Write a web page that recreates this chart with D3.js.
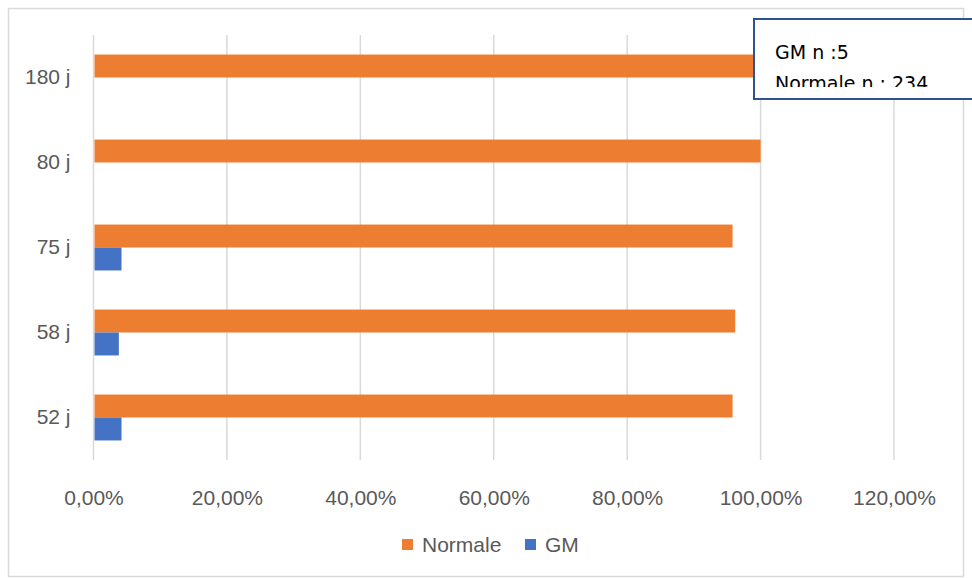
<!DOCTYPE html>
<html>
<head>
<meta charset="utf-8">
<script src="https://cdn.jsdelivr.net/npm/d3@7/dist/d3.min.js"></script>
<style>
  body { margin: 0; background: #fff; }
  svg { display: block; }
</style>
</head>
<body>
<svg id="chart"></svg>
<script>
// categories, top to bottom
const categories = ["180 j", "80 j", "75 j", "58 j", "52 j"];
const normale = [1.0, 1.0, 0.958, 0.962, 0.958];
const gm = [0, 0, 0.042, 0.038, 0.042];
const xTicks = [0, 0.2, 0.4, 0.6, 0.8, 1.0, 1.2];
const seriesNames = ["Normale", "GM"];
const noteLines = ["GM n :5", "Normale n : 234"];

const W = 972, H = 578;
const margin = { top: 35, right: 78, bottom: 118, left: 93.5 };
const width = W - margin.left - margin.right;
const height = H - margin.top - margin.bottom;

const color = d3.scaleOrdinal()
  .domain(seriesNames)
  .range(["#ED7D31", "#4472C4"]);

const root = d3.select("#chart").attr("width", W).attr("height", H);

// chart frame
root.append("rect")
  .attr("x", 8.5).attr("y", 8.5)
  .attr("width", 955).attr("height", 568)
  .attr("fill", "#fff")
  .attr("stroke", "#d9d9d9")
  .attr("stroke-width", 1.5);

const svg = root.append("g")
  .attr("transform", `translate(${margin.left}, ${margin.top})`);

const x = d3.scaleLinear().domain([0, 1.2]).range([0, width]);

const y0 = d3.scaleBand()
  .domain(categories)
  .range([0, height])
  .paddingInner(0.46)
  .paddingOuter(0.23);

const y1 = d3.scaleBand()
  .domain(seriesNames)
  .range([0, y0.bandwidth()]);

// gridlines
svg.append("g")
  .selectAll("line")
  .data(xTicks)
  .enter()
  .append("line")
  .attr("x1", (d) => x(d))
  .attr("x2", (d) => x(d))
  .attr("y1", 0)
  .attr("y2", height)
  .attr("stroke", "#d9d9d9")
  .attr("stroke-width", 1.5);

// x axis labels
const fmt = (d) => d3.format(".2f")(d * 100).replace(".", ",") + "%";
svg.append("g")
  .attr("transform", `translate(0, ${height})`)
  .call(d3.axisBottom(x).tickValues(xTicks).tickFormat(fmt).tickSize(0).tickPadding(30))
  .call((g) => g.select(".domain").remove())
  .selectAll("text")
  .attr("fill", "#595959")
  .style("font-family", "Liberation Sans, Arial, sans-serif")
  .style("font-size", "21px");

// y axis labels
svg.append("g")
  .call(d3.axisLeft(y0).tickSize(0).tickPadding(23))
  .call((g) => g.select(".domain").remove())
  .selectAll("text")
  .attr("fill", "#595959")
  .style("font-family", "Liberation Sans, Arial, sans-serif")
  .style("font-size", "21px");

// bars
const rows = categories.map((c, i) => ({ cat: c, Normale: normale[i], GM: gm[i] }));

svg.append("g")
  .selectAll("g")
  .data(rows)
  .enter()
  .append("g")
  .attr("transform", (d) => `translate(0, ${y0(d.cat)})`)
  .selectAll("rect")
  .data((d) => seriesNames.map((k) => ({ key: k, value: d[k] })))
  .enter()
  .append("rect")
  .attr("x", x(0) + 1)
  .attr("y", (d) => y1(d.key))
  .attr("width", (d) => Math.max(0, x(d.value) - x(0) - 1))
  .attr("height", y1.bandwidth())
  .attr("fill", (d) => color(d.key));

// legend
const legend = root.append("g")
  .attr("transform", "translate(402, 545)");

const legendX = [0, 123];
const items = legend.selectAll("g")
  .data(seriesNames)
  .enter()
  .append("g")
  .attr("transform", (d, i) => `translate(${legendX[i]}, 0)`);

items.append("rect")
  .attr("x", 0).attr("y", -6)
  .attr("width", 11).attr("height", 11)
  .attr("fill", color);

items.append("text")
  .attr("x", 20).attr("y", 7)
  .attr("fill", "#595959")
  .style("font-family", "Liberation Sans, Arial, sans-serif")
  .style("font-size", "21px")
  .text((d) => d);

// note box
root.append("clipPath")
  .attr("id", "noteClip")
  .append("rect")
  .attr("x", 754).attr("y", 19).attr("width", 240).attr("height", 68);

root.append("rect")
  .attr("x", 754).attr("y", 19)
  .attr("width", 240).attr("height", 80)
  .attr("fill", "#fff")
  .attr("stroke", "#2F528F")
  .attr("stroke-width", 2);

root.append("g")
  .attr("clip-path", "url(#noteClip)")
  .selectAll("text")
  .data(noteLines)
  .enter()
  .append("text")
  .attr("x", 775)
  .attr("y", (d, i) => 59 + i * 31)
  .attr("fill", "#000")
  .style("font-family", "DejaVu Sans, sans-serif")
  .style("font-size", "19px")
  .text((d) => d);
</script>
</body>
</html>
